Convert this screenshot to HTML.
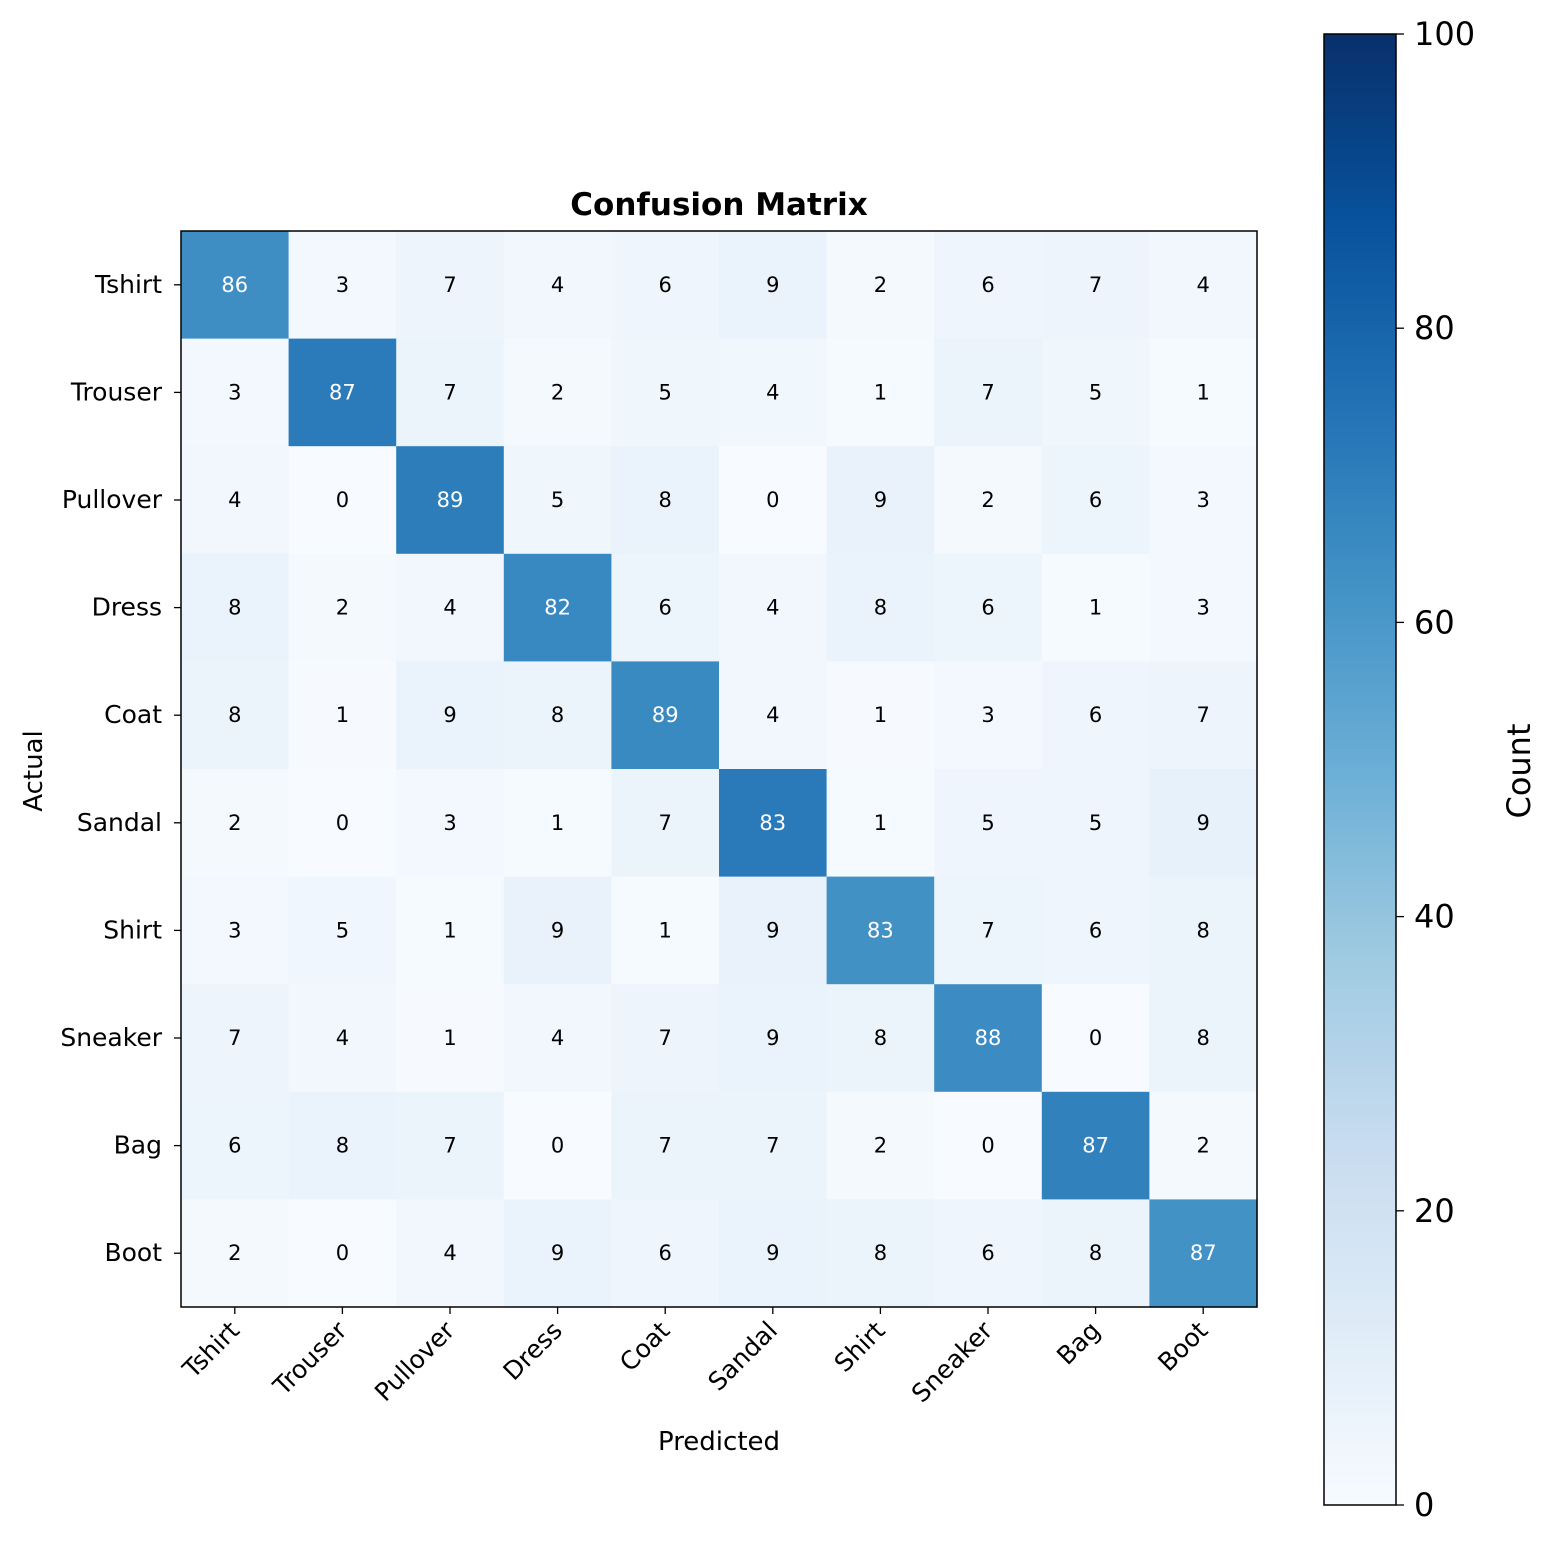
<!DOCTYPE html>
<html><head><meta charset="utf-8"><style>
html,body{margin:0;padding:0;background:#fff;}
svg text{font-family:"DejaVu Sans","Liberation Sans",sans-serif;}
</style></head><body>
<svg id="s" width="1555" height="1549" xmlns="http://www.w3.org/2000/svg">
<defs><linearGradient id="g" x1="0" y1="1" x2="0" y2="0">
<stop offset="0" stop-color="#f7fbff"/><stop offset="0.125" stop-color="#deebf7"/><stop offset="0.25" stop-color="#c6dbef"/><stop offset="0.375" stop-color="#9ecae1"/><stop offset="0.5" stop-color="#6baed6"/><stop offset="0.625" stop-color="#4292c6"/><stop offset="0.75" stop-color="#2171b5"/><stop offset="0.875" stop-color="#08519c"/><stop offset="1" stop-color="#08306b"/>
</linearGradient></defs>
<g id="m"></g>
<rect x="181" y="231" width="1076" height="1076" fill="none" stroke="#000" stroke-width="1.5"/>
<text x="719" y="215" font-size="31" font-weight="bold" text-anchor="middle">Confusion Matrix</text>
<text x="719" y="1450" font-size="26" text-anchor="middle">Predicted</text>
<text x="42" y="771" font-size="26" text-anchor="middle" transform="rotate(-90 42 771)">Actual</text>
<rect x="1324" y="34" width="72" height="1471" fill="url(#g)" stroke="#000" stroke-width="1.5"/>
<g id="cb"></g>
<text x="1530" y="771" font-size="32" text-anchor="middle" transform="rotate(-90 1530 771)">Count</text>
</svg>
<script>
var L=["Tshirt","Trouser","Pullover","Dress","Coat","Sandal","Shirt","Sneaker","Bag","Boot"];
var D=[[86,3,7,4,6,9,2,6,7,4],[3,87,7,2,5,4,1,7,5,1],[4,0,89,5,8,0,9,2,6,3],[8,2,4,82,6,4,8,6,1,3],[8,1,9,8,89,4,1,3,6,7],[2,0,3,1,7,83,1,5,5,9],[3,5,1,9,1,9,83,7,6,8],[7,4,1,4,7,9,8,88,0,8],[6,8,7,0,7,7,2,0,87,2],[2,0,4,9,6,9,8,6,8,87]];
var S=["#f7fbff","#deebf7","#c6dbef","#9ecae1","#6baed6","#4292c6","#2171b5","#08519c","#08306b"];
function h(c){return [1,3,5].map(function(i){return parseInt(c.substr(i,2),16)});}
function cm(t){t=Math.max(0,Math.min(1,t));var p=t*8,i=Math.min(7,Math.floor(p)),f=p-i,a=h(S[i]),b=h(S[i+1]);return "rgb("+a.map(function(v,k){return Math.round(v+(b[k]-v)*f)}).join(",")+")";}
var o="",c=107.6,x0=181,y0=231;
for(var r=0;r<10;r++){var sum=D[r].reduce(function(a,b){return a+b},0);
for(var k=0;k<10;k++){var v=D[r][k]/sum;
o+='<rect x="'+(x0+k*c)+'" y="'+(y0+r*c)+'" width="'+(c+0.6)+'" height="'+(c+0.6)+'" fill="'+cm(v)+'"/>';
o+='<text x="'+(x0+k*c+c/2)+'" y="'+(y0+r*c+c/2+7)+'" font-size="21" text-anchor="middle" fill="'+(v>0.5?"#fff":"#000")+'">'+D[r][k]+'</text>';}
var yc=y0+r*c+c/2;
o+='<line x1="174" y1="'+yc+'" x2="181" y2="'+yc+'" stroke="#000" stroke-width="1.3"/>';
o+='<text x="162" y="'+(yc+8)+'" font-size="25" text-anchor="end">'+L[r]+'</text>';
var xc=x0+r*c+c/2;
o+='<line x1="'+xc+'" y1="1307" x2="'+xc+'" y2="1314" stroke="#000" stroke-width="1.3"/>';
o+='<text x="'+(xc+6)+'" y="1332" font-size="25" text-anchor="end" transform="rotate(-45 '+(xc+6)+' 1332)">'+L[r]+'</text>';}
document.getElementById("m").innerHTML=o;
var q="";
for(var t=0;t<=100;t+=20){var y=1505-t*14.71;
q+='<line x1="1396" y1="'+y+'" x2="1404" y2="'+y+'" stroke="#000" stroke-width="1.3"/>';
q+='<text x="1414" y="'+(y+11)+'" font-size="32">'+t+'</text>';}
document.getElementById("cb").innerHTML=q;
</script>
</body></html>
